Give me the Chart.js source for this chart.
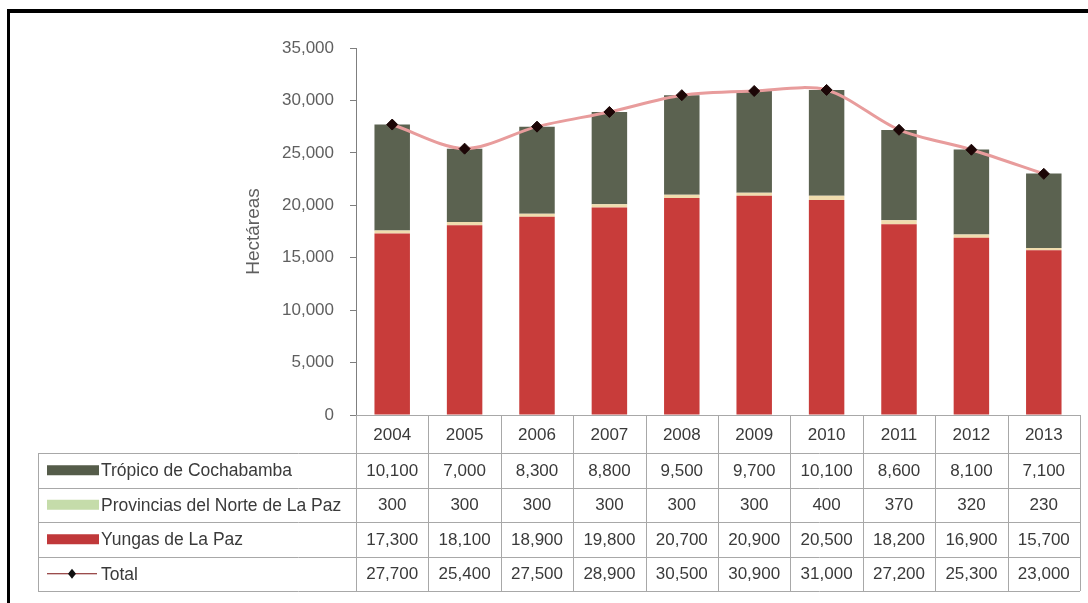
<!DOCTYPE html>
<html>
<head>
<meta charset="utf-8">
<script src="https://cdn.jsdelivr.net/npm/chart.js@4/dist/chart.umd.min.js"></script>
<style>
  body { margin: 0; background: #fff; }
</style>
</head>
<body>
<canvas id="coca-chart" width="1088" height="603"></canvas>
<script>
const years = ["2004", "2005", "2006", "2007", "2008", "2009", "2010", "2011", "2012", "2013"];
const tropico = [10100, 7000, 8300, 8800, 9500, 9700, 10100, 8600, 8100, 7100];
const provincias = [300, 300, 300, 300, 300, 300, 400, 370, 320, 230];
const yungas = [17300, 18100, 18900, 19800, 20700, 20900, 20500, 18200, 16900, 15700];
const totals = [27700, 25400, 27500, 28900, 30500, 30900, 31000, 27200, 25300, 23000];
const yTicks = [0, 5000, 10000, 15000, 20000, 25000, 30000, 35000];

const sans = "'Liberation Sans', Arial, sans-serif";
const fmt = v => v.toLocaleString("en-US");

// table rows: dataset index + legend swatch
const tableRows = [
  { ds: 3, swatch: "#555c4a", kind: "box" },
  { ds: 2, swatch: "#c5dcaa", kind: "box" },
  { ds: 1, swatch: "#c0383a", kind: "box" },
  { ds: 0, swatch: "#7a1010", kind: "line" }
];

const frame = {
  id: "frame",
  beforeDraw(chart) {
    const ctx = chart.ctx;
    ctx.save();
    ctx.fillStyle = "#fff";
    ctx.fillRect(0, 0, chart.width, chart.height);
    ctx.fillStyle = "#000";
    ctx.fillRect(7, 9, chart.width - 7, 4);
    ctx.fillRect(7, 9, 3, chart.height - 9);
    ctx.restore();
  }
};

const dataTable = {
  id: "dataTable",
  afterDraw(chart) {
    const { ctx, chartArea } = chart;
    const x = chart.scales.x;
    const colW = x.getPixelForValue(1) - x.getPixelForValue(0);
    const top = chartArea.bottom;
    const left = 38;
    const right = x.getPixelForValue(years.length - 1) + colW / 2;
    const rows = [top, top + 38, top + 72.5, top + 107, top + 141.5, top + 176];

    ctx.save();
    ctx.strokeStyle = "#a8a8a8";
    ctx.lineWidth = 1;
    ctx.beginPath();
    rows.forEach((y, i) => {
      const yy = Math.round(y) + 0.5;
      ctx.moveTo(i === 0 ? chartArea.left : left, yy);
      ctx.lineTo(right, yy);
    });
    ctx.moveTo(left + 0.5, rows[1]);
    ctx.lineTo(left + 0.5, rows[5]);
    for (let i = 0; i <= years.length; i++) {
      const cx = Math.round(x.getPixelForValue(i) - colW / 2) + 0.5;
      ctx.moveTo(cx, top);
      ctx.lineTo(cx, rows[5]);
    }
    ctx.stroke();

    ctx.font = "17px " + sans;
    ctx.fillStyle = "#3a3a3a";
    ctx.textBaseline = "middle";
    ctx.textAlign = "center";
    years.forEach((yr, i) => {
      ctx.fillText(yr, x.getPixelForValue(i), (rows[0] + rows[1]) / 2 + 1);
    });

    tableRows.forEach((r, k) => {
      const ds = chart.data.datasets[r.ds];
      const cy = (rows[k + 1] + rows[k + 2]) / 2 + 1;
      ctx.font = "17px " + sans;
      ds.data.forEach((v, i) => {
        ctx.textAlign = "center";
        ctx.fillStyle = "#3a3a3a";
        ctx.fillText(fmt(v), x.getPixelForValue(i), cy);
      });
      // legend key
      if (r.kind === "box") {
        ctx.fillStyle = r.swatch;
        ctx.fillRect(47, cy - 6, 52, 10);
      } else {
        ctx.strokeStyle = r.swatch;
        ctx.lineWidth = 1.2;
        ctx.beginPath();
        ctx.moveTo(47, cy - 1);
        ctx.lineTo(97, cy - 1);
        ctx.stroke();
        ctx.fillStyle = "#111";
        ctx.beginPath();
        ctx.moveTo(72, cy - 6);
        ctx.lineTo(76, cy - 1);
        ctx.lineTo(72, cy + 4);
        ctx.lineTo(68, cy - 1);
        ctx.closePath();
        ctx.fill();
      }
      ctx.font = "17.5px " + sans;
      ctx.textAlign = "left";
      ctx.fillStyle = "#3a3a3a";
      ctx.fillText(ds.label, 101, cy);
    });
    ctx.restore();
  }
};

new Chart(document.getElementById("coca-chart"), {
  type: "bar",
  data: {
    labels: years,
    datasets: [
      {
        type: "line",
        label: "Total",
        data: totals,
        order: 0,
        stack: "total",
        borderColor: "#e89c9c",
        borderWidth: 3,
        tension: 0.3,
        pointStyle: "rectRot",
        pointRadius: 5.5,
        pointBackgroundColor: "#1c0606",
        pointBorderColor: "#1c0606",
        pointBorderWidth: 1
      },
      { label: "Yungas de La Paz", data: yungas, backgroundColor: "#c83c3a", order: 1 },
      { label: "Provincias del Norte de La Paz", data: provincias, backgroundColor: "#f0dcae", order: 1 },
      { label: "Trópico de Cochabamba", data: tropico, backgroundColor: "#5b6250", order: 1 }
    ]
  },
  options: {
    responsive: false,
    animation: false,
    layout: { padding: { left: 0, right: 8, top: 48, bottom: 188 } },
    categoryPercentage: 1,
    barPercentage: 0.49,
    plugins: {
      legend: { display: false },
      tooltip: { enabled: false }
    },
    scales: {
      x: { display: false, stacked: true },
      y: {
        stacked: true,
        min: 0,
        max: 35000,
        afterBuildTicks: axis => { axis.ticks = yTicks.map(v => ({ value: v })); },
        afterFit: axis => { axis.width = 356; },
        border: { display: true, color: "#7f7f7f", width: 1 },
        grid: { drawOnChartArea: false, drawTicks: true, tickLength: 6, color: "#7f7f7f" },
        ticks: {
          padding: 16,
          color: "#5f5f5f",
          font: { family: sans, size: 17 },
          callback: v => fmt(v)
        },
        title: {
          display: true,
          text: "Hectáreas",
          color: "#5f5f5f",
          font: { family: sans, size: 19 },
          padding: { top: 242 }
        }
      }
    }
  },
  plugins: [frame, dataTable]
});
</script>
</body>
</html>
